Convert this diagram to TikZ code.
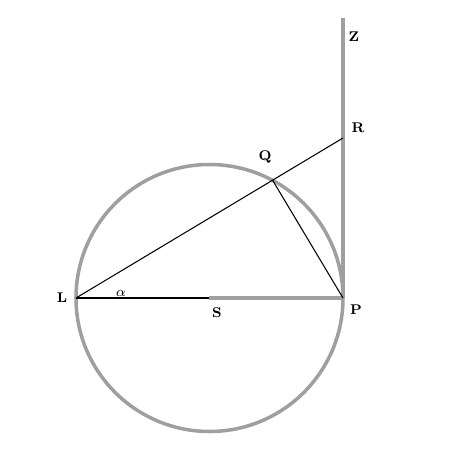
\documentclass[tikz,border=0pt]{standalone}
\usetikzlibrary{calc}
\tikzset{
  grayline/.style={draw=gray!75, line width=2pt},
  thinline/.style={draw=black, line width=0.6pt},
  lbl/.style={font=\footnotesize\bfseries, inner sep=1pt}
}
\begin{document}
\begin{tikzpicture}
  \useasboundingbox (0,0) rectangle (9.08,9.08);
  \coordinate (S) at (4.19,3.12);
  \coordinate (L) at (1.52,3.12);
  \coordinate (P) at (6.86,3.12);
  \coordinate (R) at (6.86,6.32);
  \coordinate (Z) at (6.86,8.72);
  \coordinate (Q) at ($(L)!0.7362!(R)$);

  % circle and tangent
  \draw[grayline] (S) circle (2.67);
  \draw[grayline] (P) -- (Z);
  \draw[grayline] (S) -- (P);

  % chords
  \draw[thinline] (L) -- (R);
  \draw[thinline] (L) -- (S);
  \draw[thinline] (Q) -- (P);

  % labels
  \node[lbl] (zl) at (7.08,8.34) {Z};
  \node[lbl] (rl) at (7.16,6.52) {R};
  \node[lbl] (ql) at (5.30,5.94) {Q};
  \node[lbl] (ll) at (1.24,3.12) {L};
  \node[lbl] (al) at (2.42,3.22) {$\alpha$};
  \node[lbl] (sl) at (4.34,2.82) {S};
  \node[lbl] (pl) at (7.12,2.88) {P};
\end{tikzpicture}
\end{document}
